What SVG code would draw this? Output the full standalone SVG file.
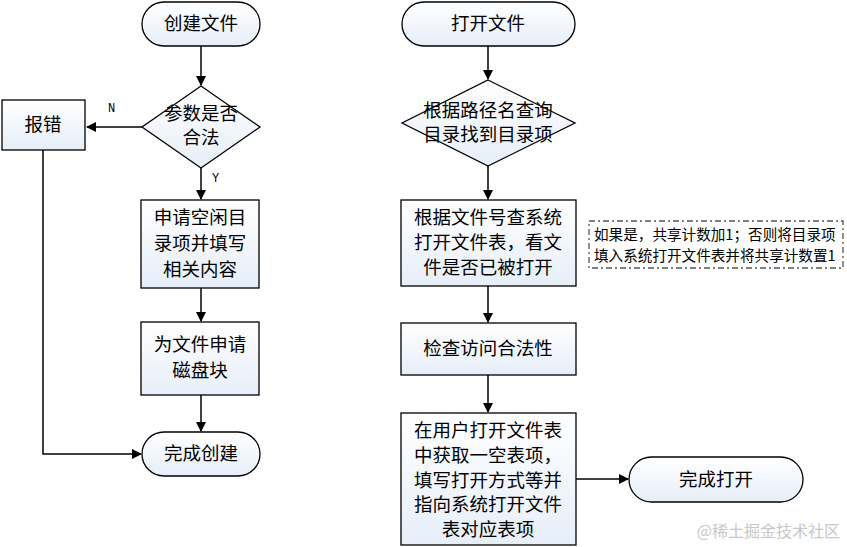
<svg xmlns="http://www.w3.org/2000/svg" width="847" height="547" viewBox="0 0 847 547">
<defs>
<linearGradient id="g" x1="0" y1="0" x2="0" y2="1"><stop offset="0" stop-color="#ffffff"/><stop offset="1" stop-color="#e6eef8"/></linearGradient>
<marker id="a" markerWidth="10" markerHeight="10" refX="9" refY="5" orient="auto" markerUnits="userSpaceOnUse"><path d="M0,0 L10,5 L0,10 z" fill="#000"/></marker>
</defs>
<style>
.s{fill:url(#g);stroke:#000;stroke-width:1.3}
.t{font-family:"Noto Sans CJK SC","Liberation Sans",sans-serif;font-size:18.5px;fill:#000;text-anchor:middle}
.c line,.c path{stroke:#000;stroke-width:1.5;fill:none;marker-end:url(#a)}
.l{font-family:"Liberation Mono",monospace;font-size:12px}
.n{font-family:"Noto Sans CJK SC",sans-serif;font-size:14.6px}
</style>
<rect width="847" height="547" fill="#fff"/>
<g class="c">
<line x1="201" y1="46" x2="201" y2="85"/>
<line x1="142" y1="127" x2="87" y2="127"/>
<line x1="201" y1="168" x2="201" y2="199"/>
<line x1="201" y1="288" x2="201" y2="321"/>
<line x1="201" y1="395" x2="201" y2="431"/>
<path d="M43,150 V454 H141"/>
<line x1="488" y1="46" x2="488" y2="79"/>
<line x1="488" y1="166" x2="488" y2="199"/>
<line x1="488" y1="286" x2="488" y2="322"/>
<line x1="488" y1="375" x2="488" y2="412"/>
<line x1="576" y1="479" x2="628" y2="479"/>
</g>
<text class="l" x="108" y="112">N</text>
<text class="l" x="212" y="182">Y</text>
<g id="n1"><rect class="s" x="142" y="2" width="118" height="44" rx="22"/><text class="t" x="201" y="30">创建文件</text></g>
<g id="n2"><path class="s" d="M201,86 L260,127 L201,168 L142,127 z"/><text class="t" x="201" y="120">参数是否</text><text class="t" x="201" y="144">合法</text></g>
<g id="n3"><rect class="s" x="2" y="100" width="83" height="50"/><text class="t" x="43" y="131">报错</text></g>
<g id="n4"><rect class="s" x="141" y="200" width="118" height="88"/><text class="t" x="200" y="224">申请空闲目</text><text class="t" x="200" y="250">录项并填写</text><text class="t" x="200" y="276">相关内容</text></g>
<g id="n5"><rect class="s" x="141" y="322" width="118" height="73"/><text class="t" x="200" y="351">为文件申请</text><text class="t" x="200" y="377">磁盘块</text></g>
<g id="n6"><rect class="s" x="142" y="432" width="118" height="44" rx="22"/><text class="t" x="201" y="460">完成创建</text></g>
<g id="n7"><rect class="s" x="402" y="2" width="173" height="44" rx="22"/><text class="t" x="488" y="30">打开文件</text></g>
<g id="n8"><path class="s" d="M488,80 L575,123 L488,166 L402,123 z"/><text class="t" x="488" y="117">根据路径名查询</text><text class="t" x="488" y="141">目录找到目录项</text></g>
<g id="n9"><rect class="s" x="401" y="200" width="175" height="86"/><text class="t" x="488" y="224">根据文件号查系统</text><text class="t" x="488" y="249">打开文件表，看文</text><text class="t" x="488" y="274">件是否已被打开</text></g>
<g id="n10"><rect x="589" y="221" width="254" height="47" fill="#fff" stroke="#555" stroke-width="1.3" stroke-dasharray="6,3,2,3"/><text class="n" x="594" y="240">如果是，共享计数加1；否则将目录项</text><text class="n" x="594" y="261">填入系统打开文件表并将共享计数置1</text></g>
<g id="n11"><rect class="s" x="401" y="323" width="175" height="52"/><text class="t" x="488" y="355">检查访问合法性</text></g>
<g id="n12"><rect class="s" x="401" y="413" width="175" height="132"/><text class="t" x="488" y="437">在用户打开文件表</text><text class="t" x="488" y="462">中获取一空表项，</text><text class="t" x="488" y="487">填写打开方式等并</text><text class="t" x="488" y="511">指向系统打开文件</text><text class="t" x="488" y="536">表对应表项</text></g>
<g id="n13"><rect class="s" x="629" y="457" width="174" height="45" rx="22.5"/><text class="t" x="716" y="486">完成打开</text></g>
<text x="840" y="537" text-anchor="end" font-family="Noto Sans CJK SC,sans-serif" font-size="16" fill="#c8c8c8">@稀土掘金技术社区</text>
</svg>
